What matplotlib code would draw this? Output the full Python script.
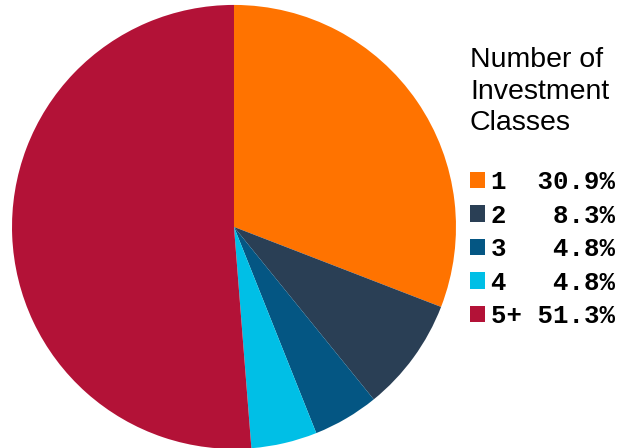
import matplotlib.pyplot as plt

labels = ["1", "2", "3", "4", "5+"]
shares = [30.9, 8.3, 4.8, 4.8, 51.3]
colors = ["#FF7300", "#2A3F55", "#045683", "#00BFE6", "#B31237"]

fig = plt.figure(figsize=(6.28, 4.48), dpi=100)
ax = fig.add_axes([0.0191, -0.002, 0.707, 0.991])
wedges, _ = ax.pie(shares, colors=colors, startangle=90, counterclock=False,
                   wedgeprops=dict(linewidth=0))
ax.set_xlim(-1, 1)
ax.set_ylim(-1, 1)
ax.set_aspect("equal")

fig.text(470 / 628, 1 - 47 / 448, "Number of\nInvestment\nClasses",
         fontsize=20.5, family="Liberation Sans", va="top", ha="left",
         linespacing=1.28)

legend_labels = [f"{lab:<3}{val:>4.1f}%" for lab, val in zip(labels, shares)]
fig.legend(wedges, legend_labels, loc="upper left",
           bbox_to_anchor=(470 / 628, 1 - 170 / 448), frameon=False,
           prop=dict(family="Liberation Mono", weight="bold", size=18.5),
           handlelength=0.6, handleheight=0.6, handletextpad=0.2,
           labelspacing=0.37, borderpad=0, borderaxespad=0)

fig.savefig("out.png", dpi=100)
